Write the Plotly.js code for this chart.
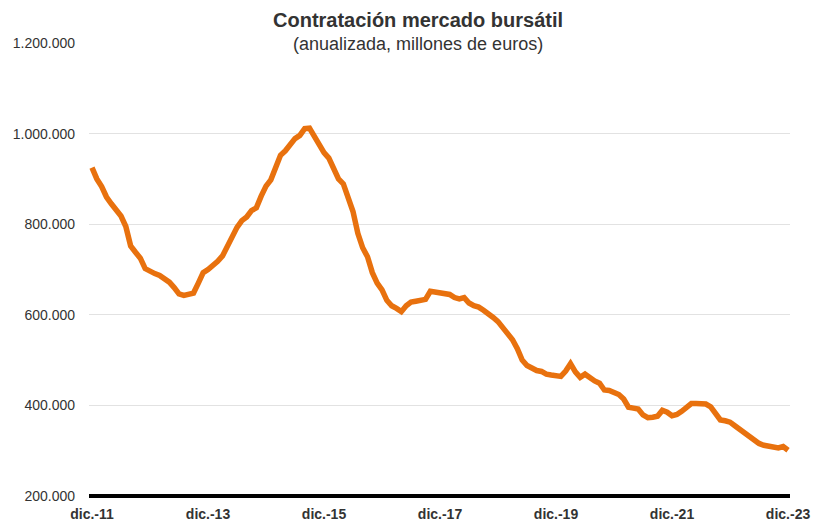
<!DOCTYPE html>
<html>
<head>
<meta charset="utf-8">
<script src="https://cdn.plot.ly/plotly-3.0.1.min.js"></script>
<style>html,body{margin:0;padding:0;background:#fff;}#chart{width:821px;height:525px;}</style>
</head>
<body>
<div id="chart"></div>
<script>
// Monthly series, dic.-11 to dic.-23 (millions of euros in thousands)
const values = [
  925, 900, 883, 860, 845, 832, 818, 795, 752, 738, 725, 702,
  695, 691, 687, 680, 672, 660, 646, 643, 646, 648, 670, 693,
  700, 708, 718, 730, 752, 775, 793, 808, 816, 830, 836, 862,
  884, 898, 928, 952, 962, 975, 989, 996, 1011, 1012, 992, 972,
  958, 946, 925, 900, 889, 855, 828, 780, 748, 728, 693, 670,
  655, 632, 620, 614, 607, 620, 628, 630, 632, 634, 652, 651,
  650, 647, 645, 638, 635, 638, 626, 620, 617, 610, 603, 594,
  585, 573, 560, 545, 525, 500, 488, 482, 477, 475, 469, 467,
  467, 464, 476, 492, 474, 462, 469, 461, 454, 449, 434, 433,
  430, 424, 414, 396, 394, 392, 379, 373, 374, 376, 389, 385,
  377, 380, 387, 396, 404, 404, 403, 403, 397, 381, 368, 366,
  363, 355, 347, 339, 330, 321, 316, 312, 311, 310, 306, 309,
  301
].map(v => v * 1000);

const monthNames = ['ene.','feb.','mar.','abr.','may.','jun.','jul.','ago.','sep.','oct.','nov.','dic.'];
const startYear = 2011, startMonth = 11; // dic.-11
const categories = values.map((_, i) => {
  const m = (startMonth + i) % 12;
  const y = startYear + Math.floor((startMonth + i) / 12);
  return monthNames[m] + '-' + String(y).slice(2);
});

const tickLabels = ['dic.-11','dic.-13','dic.-15','dic.-17','dic.-19','dic.-21','dic.-23'];
const yTicks = [200000, 400000, 600000, 800000, 1000000, 1200000];

const trace = {
  x: categories,
  y: values,
  type: 'scatter',
  mode: 'lines',
  line: {color: '#E8710E', width: 5.5, shape: 'linear'},
  hoverinfo: 'x+y'
};

const layout = {
  width: 821, height: 525,
  margin: {l: 89, r: 31, t: 43, b: 27},
  paper_bgcolor: '#fff', plot_bgcolor: '#fff',
  separators: ',.',
  font: {family: 'Liberation Sans, Arial, Helvetica, sans-serif', color: '#333'},
  showlegend: false,
  xaxis: {
    type: 'category',
    range: [-0.62, categories.length - 1 + 0.41],
    tickmode: 'array',
    tickvals: tickLabels,
    ticktext: tickLabels.map(t => '<b>' + t + '</b>'),
    tickfont: {size: 14, color: '#333'},
    showgrid: false, zeroline: false, showline: false,
    ticks: '', ticklabelstandoff: 6
  },
  yaxis: {
    range: [195585, 1200000],
    tickmode: 'array',
    tickvals: yTicks,
    tickformat: ',d',
    tickfont: {size: 14, color: '#333'},
    showgrid: true, gridcolor: '#e2e2e2', gridwidth: 1,
    zeroline: false, showline: false,
    ticks: '', ticklabelstandoff: 13
  },
  shapes: [{
    type: 'line', xref: 'paper', yref: 'y',
    x0: 0, x1: 1, y0: 200000, y1: 200000,
    line: {color: '#000', width: 4}
  }],
  annotations: [
    {text: '<b>Contratación mercado bursátil</b>', xref: 'paper', yref: 'paper',
     x: 0.469, y: 1, yshift: 23, xanchor: 'center', yanchor: 'middle',
     showarrow: false, font: {size: 20, color: '#333'}},
    {text: '(anualizada, millones de euros)', xref: 'paper', yref: 'paper',
     x: 0.469, y: 1, yshift: -1, xanchor: 'center', yanchor: 'middle',
     showarrow: false, font: {size: 18, color: '#333'}}
  ]
};

Plotly.newPlot('chart', [trace], layout, {displayModeBar: false, staticPlot: true});
</script>
</body>
</html>
